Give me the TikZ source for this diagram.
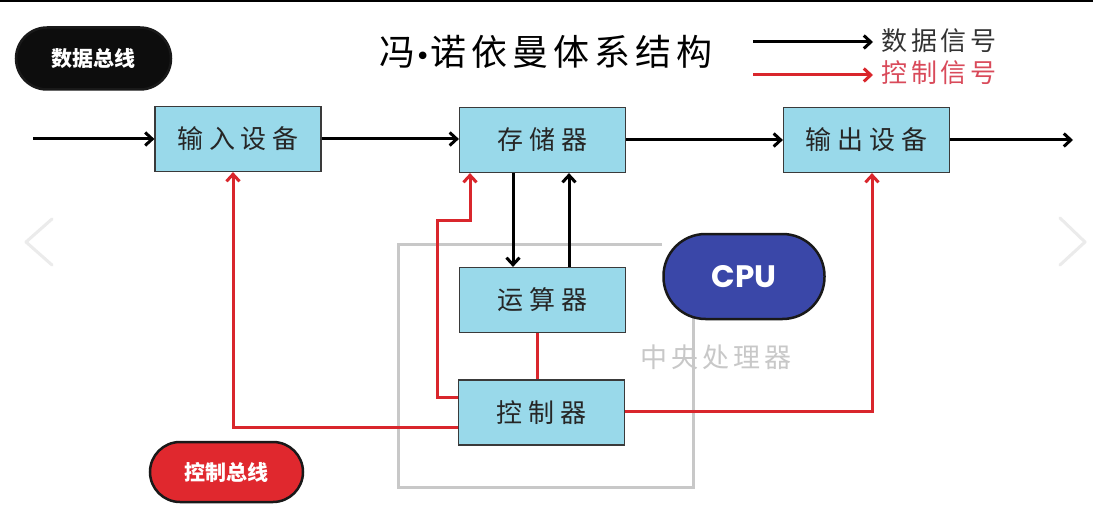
\documentclass[tikz,border=0pt]{standalone}
\usepackage{fontspec}
\usetikzlibrary{arrows.meta}
\newfontfamily\cjk{Noto Sans CJK SC}
\newfontfamily\cjkA[LetterSpace=22]{Noto Sans CJK SC}
\newfontfamily\cjkT[LetterSpace=14]{Noto Sans CJK SC}
\newfontfamily\cjkL[LetterSpace=15]{Noto Sans CJK SC}
\newfontfamily\dejavu{DejaVu Sans}
\newfontfamily\popfont{Poppins}
\definecolor{boxfill}{HTML}{99D9EA}
\definecolor{boxline}{HTML}{3A3A3A}
\definecolor{ctrlred}{HTML}{D9262C}
\definecolor{busred}{HTML}{E0282E}
\definecolor{cpublue}{HTML}{3A47A8}
\definecolor{cpugray}{HTML}{C8C8C8}
\definecolor{legendgray}{HTML}{333333}
\definecolor{legendred}{HTML}{D94A5A}
\definecolor{chevgray}{HTML}{EBEBEB}
\begin{document}
\begin{tikzpicture}[x=1pt,y=-1pt,
  unit/.style={draw=boxline, line width=1.2pt, fill=boxfill, inner sep=0pt,
    minimum width=166pt, minimum height=65pt, text=black!85,
    font=\cjkA\fontsize{26}{30}\selectfont},
  pill/.style={draw=black!90, line width=2.5pt, inner sep=0pt, text=white},
  dataarrow/.style={line width=3pt, black,
    -{Straight Barb[length=7pt,width=13pt,line width=3pt]}},
  ctrlarrow/.style={line width=3pt, ctrlred,
    -{Straight Barb[length=7pt,width=13pt,line width=3pt]}},
  ctrlline/.style={line width=3pt, ctrlred},
  cpuline/.style={line width=3pt, cpugray},
  chev/.style={line width=3pt, chevgray, line cap=round, line join=round}]
\useasboundingbox (0,0) rectangle (1093,524);
\fill[white] (0,0) rectangle (1093,524);
\draw[line width=2pt, black] (0,1) -- (1093,1);

% chevrons
\draw[chev] (52,219) -- (26,242) -- (52,265);
\draw[chev] (1060,218) -- (1085,242) -- (1060,265);

% CPU boundary
\draw[cpuline] (662,244) -- (398,244) -- (398,487) -- (693,487) -- (693,318);

% title
\node[font=\cjkT\fontsize{36}{40}\selectfont, text=black] (title) at (546,52) {冯{\dejavu\fontsize{26}{30}\selectfont •}诺依曼体系结构};

% legend
\coordinate (l1a) at (753,42);
\coordinate (l1b) at (873,42);
\coordinate (l2a) at (753,75);
\coordinate (l2b) at (873,75);
\draw[dataarrow] (l1a) -- (l1b);
\draw[ctrlarrow] (l2a) -- (l2b);
\node[anchor=west, inner sep=0pt, text=legendgray, font=\cjkL\fontsize{26}{30}\selectfont] (lt1) at (881,41) {数据信号};
\node[anchor=west, inner sep=0pt, text=legendred, font=\cjkL\fontsize{26}{30}\selectfont] (lt2) at (881,73) {控制信号};

% units
\node[unit] (in) at (238,139) {输入设备};
\node[unit] (mem) at (542.5,140) {存储器};
\node[unit] (out) at (866.5,140) {输出设备};
\node[unit] (alu) at (542.5,300) {运算器};
\node[unit] (ctl) at (541.5,412.5) {控制器};

% data flow
\coordinate (src) at (33,139);
\coordinate (snk) at (1073,140);
\draw[dataarrow] (src) -- (in.west);
\draw[dataarrow] (in.east) -- (in.east -| mem.west);
\draw[dataarrow] (mem.east) -- (out.west);
\draw[dataarrow] (out.east) -- (snk);
\draw[dataarrow] ([xshift=-29.5pt]mem.south) -- ([xshift=-29.5pt]alu.north);
\draw[dataarrow] ([xshift=26.5pt]alu.north) -- ([xshift=26.5pt]mem.south);

% control flow
\draw[ctrlarrow] ([yshift=15.5pt]ctl.west) -| (437,220) -| ([xshift=-72.5pt]mem.south);
\draw[ctrlarrow] ([yshift=-14.5pt]ctl.west) -| ([xshift=-5pt]in.south);
\draw[ctrlarrow] ([yshift=1.5pt]ctl.east) -| ([xshift=5.5pt]out.south);
\draw[ctrlline] ([xshift=-5.5pt]alu.south) -- ([xshift=-5.5pt]alu.south |- ctl.north);

% pills
\node[pill, fill=black!95, minimum width=155pt, minimum height=62pt, rounded corners=31pt,
  font=\cjk\bfseries\fontsize{21}{24}\selectfont] (dbus) at (93.5,58.5) {数据总线};
\node[pill, fill=busred, minimum width=153pt, minimum height=60pt, rounded corners=30pt,
  font=\cjk\bfseries\fontsize{21}{24}\selectfont] (cbus) at (226.5,472) {控制总线};
\node[pill, fill=cpublue, minimum width=161pt, minimum height=85pt, rounded corners=42pt,
  font=\popfont\bfseries\fontsize{31}{34}\selectfont] (cpu) at (744,276.5) {CPU};

% CPU caption
\node[text=cpugray, font=\cjkL\fontsize{27}{30}\selectfont] (cap) at (716,357) {中央处理器};
\end{tikzpicture}
\end{document}
